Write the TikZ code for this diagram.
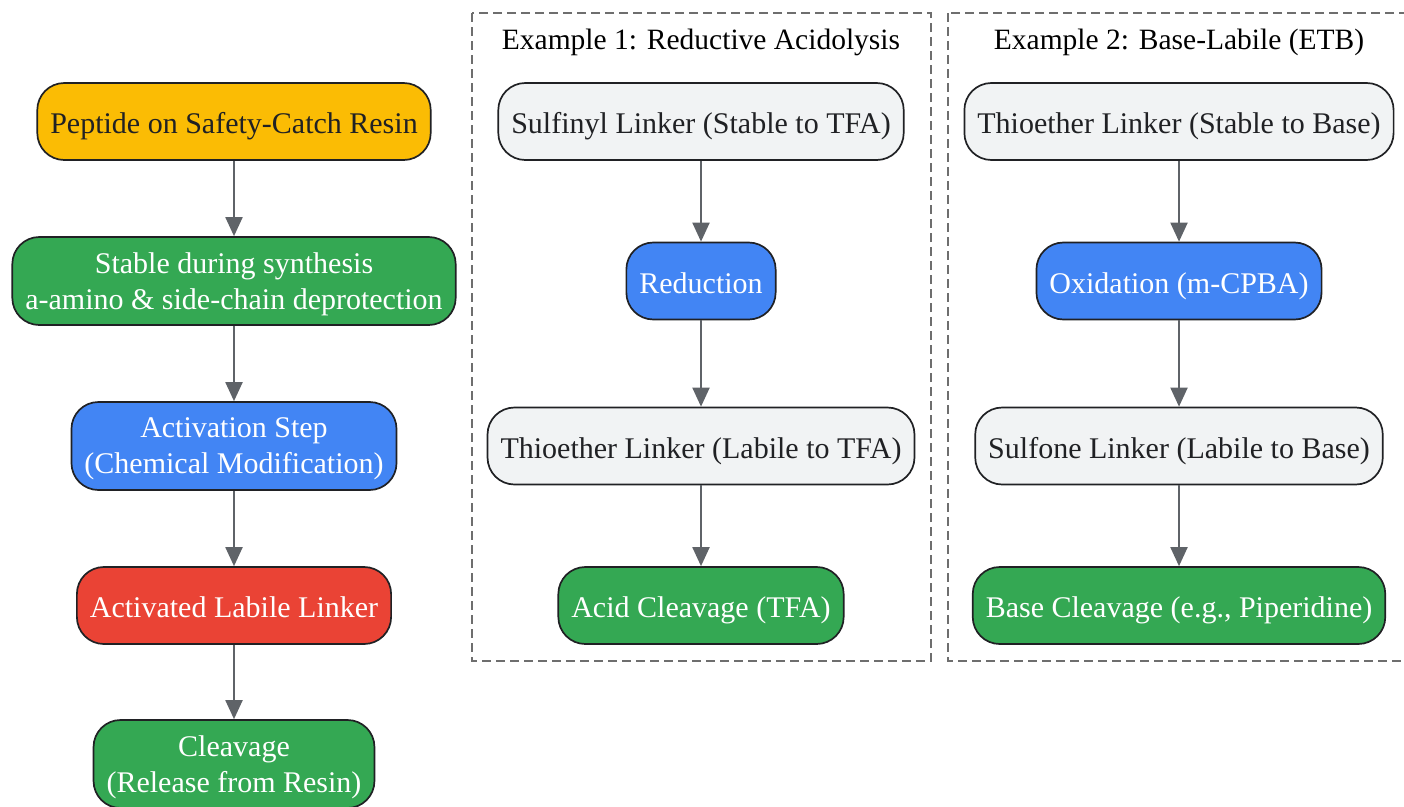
\documentclass[tikz,border=0pt]{standalone}
\usepackage{fontspec}
\setmainfont{Liberation Serif}
\usetikzlibrary{positioning,arrows.meta}
\definecolor{catch}{RGB}{251,188,4}
\definecolor{okgreen}{RGB}{52,168,83}
\definecolor{stepblue}{RGB}{66,133,244}
\definecolor{warnred}{RGB}{234,67,53}
\definecolor{linkergray}{RGB}{241,243,244}
\definecolor{edgegray}{RGB}{95,99,104}
\definecolor{inkdark}{RGB}{32,33,36}
\definecolor{framegray}{RGB}{110,110,110}

\tikzset{
  box/.style={draw=inkdark, line width=1.7pt, rounded corners=27pt,
    minimum height=77pt, inner xsep=13pt, align=center,
    text height=27pt, text depth=3pt,
    font=\fontsize{30}{36}\selectfont},
  twoline/.style={minimum height=88pt, text height=, text depth=-1.5pt},
  darktext/.style={box, text=inkdark},
  lighttext/.style={box, text=white},
  flow/.style={draw=edgegray, line width=2pt,
    -{Triangle[length=19pt,width=17pt]}},
  cluster/.style={draw=framegray, line width=1.6pt, dash pattern=on 9pt off 5pt}
}

\begin{document}
\begin{tikzpicture}[x=1pt,y=-1pt]
      \useasboundingbox (0,0) rectangle (1404,806);
      \clip (0,0) rectangle (1404,806);

      % main route
      \node[darktext, fill=catch] (resin) at (234,121.5) {Peptide on Safety-Catch Resin};
      \node[lighttext, twoline, fill=okgreen] (stable) at (234,281) {Stable during synthesis\\a-amino \& side-chain deprotection};
      \node[lighttext, twoline, fill=stepblue] (activate) at (234,446) {Activation Step\\(Chemical Modification)};
      \node[lighttext, fill=warnred] (labile) at (234,605.5) {Activated Labile Linker};
      \node[lighttext, twoline, fill=okgreen] (release) at (234,764) {Cleavage\\(Release from Resin)};

      \draw[flow] (resin) -- (stable);
      \draw[flow] (stable) -- (activate);
      \draw[flow] (activate) -- (labile);
      \draw[flow] (labile) -- (release);

      % example 1
      \draw[cluster] (472,13) rectangle (931,661);
      \node[font=\fontsize{29.5}{36}\selectfont] (exone) at (701,42) {Example 1: Reductive Acidolysis};

      \node[darktext, fill=linkergray] (sulfinyl) at (701,121.5) {Sulfinyl Linker (Stable to TFA)};
      \node[lighttext, fill=stepblue] (reduce) at (701,281) {Reduction};
      \node[darktext, fill=linkergray] (thioacid) at (701,446) {Thioether Linker (Labile to TFA)};
      \node[lighttext, fill=okgreen] (acidcut) at (701,605.5) {Acid Cleavage (TFA)};

      \draw[flow] (sulfinyl) -- (reduce);
      \draw[flow] (reduce) -- (thioacid);
      \draw[flow] (thioacid) -- (acidcut);

      % example 2
      \draw[cluster] (948,13) rectangle (1412,661);
      \node[font=\fontsize{29.5}{36}\selectfont] (extwo) at (1179,42) {Example 2: Base-Labile (ETB)};

      \node[darktext, fill=linkergray] (thiobase) at (1179,121.5) {Thioether Linker (Stable to Base)};
      \node[lighttext, fill=stepblue] (oxidize) at (1179,281) {Oxidation (m-CPBA)};
      \node[darktext, fill=linkergray] (sulfone) at (1179,446) {Sulfone Linker (Labile to Base)};
      \node[lighttext, fill=okgreen] (basecut) at (1179,605.5) {Base Cleavage (e.g., Piperidine)};

      \draw[flow] (thiobase) -- (oxidize);
      \draw[flow] (oxidize) -- (sulfone);
      \draw[flow] (sulfone) -- (basecut);
\end{tikzpicture}
\end{document}
